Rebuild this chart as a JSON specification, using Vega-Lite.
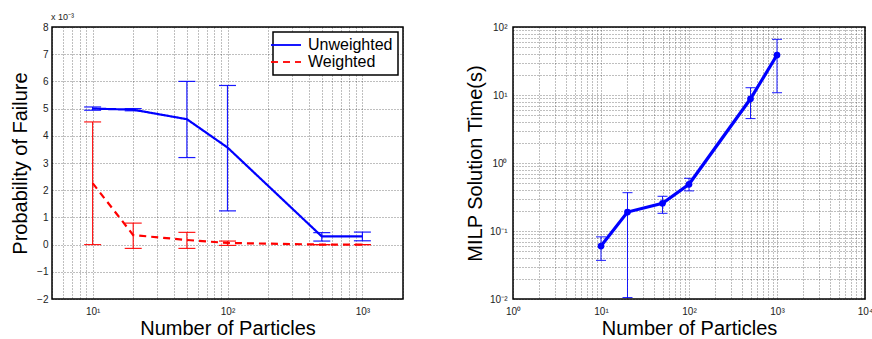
{
  "$schema": "https://vega.github.io/schema/vega-lite/v6.json",
  "padding": {"left": 9, "top": 12, "right": 0, "bottom": 0},
  "background": "white",
  "datasets": {
    "fail": [
      {"n": 10, "series": "Unweighted", "p": 0.00500, "lo": 0.00494, "hi": 0.00506},
      {"n": 20, "series": "Unweighted", "p": 0.00496, "lo": 0.00492, "hi": 0.00500},
      {"n": 50, "series": "Unweighted", "p": 0.00461, "lo": 0.00320, "hi": 0.00600},
      {"n": 100, "series": "Unweighted", "p": 0.00357, "lo": 0.00124, "hi": 0.00585},
      {"n": 500, "series": "Unweighted", "p": 0.00030, "lo": 0.00013, "hi": 0.00044},
      {"n": 1000, "series": "Unweighted", "p": 0.00030, "lo": 0.00014, "hi": 0.00046},
      {"n": 10, "series": "Weighted", "p": 0.00226, "lo": 0.0, "hi": 0.00451},
      {"n": 20, "series": "Weighted", "p": 0.00035, "lo": -0.00014, "hi": 0.00079},
      {"n": 50, "series": "Weighted", "p": 0.00017, "lo": -0.00014, "hi": 0.00045},
      {"n": 100, "series": "Weighted", "p": 0.00006, "lo": -0.00003, "hi": 0.00013},
      {"n": 500, "series": "Weighted", "p": 0.0, "lo": 0.0, "hi": 0.0},
      {"n": 1000, "series": "Weighted", "p": 0.0, "lo": 0.0, "hi": 0.0}
    ],
    "time": [
      {"n": 10, "t": 0.060, "lo": 0.037, "hi": 0.082},
      {"n": 20, "t": 0.19, "lo": 0.0105, "hi": 0.366},
      {"n": 50, "t": 0.255, "lo": 0.182, "hi": 0.324},
      {"n": 100, "t": 0.486, "lo": 0.389, "hi": 0.596},
      {"n": 500, "t": 8.8, "lo": 4.5, "hi": 12.8},
      {"n": 1000, "t": 38.7, "lo": 10.8, "hi": 65.9}
    ],
    "multiplier": [{"label": "x 10⁻³", "n": 5, "p": 0.008}]
  },
  "resolve": {
    "scale": {"color": "independent", "strokeDash": "independent"},
    "legend": {"color": "independent", "strokeDash": "independent"}
  },
  "hconcat": [
    {
      "width": 351,
      "height": 272,
      "data": {"name": "fail"},
      "encoding": {
        "x": {
          "field": "n", "type": "quantitative",
          "scale": {"type": "log", "domain": [5, 2000], "nice": false},
          "axis": {
            "title": "Number of Particles",
            "values": [5,6,7,8,9,10,20,30,40,50,60,70,80,90,100,200,300,400,500,600,700,800,900,1000,2000],
            "labelExpr": "datum.value==10?'10¹':datum.value==100?'10²':datum.value==1000?'10³':''",
            "labelPadding": 7, "titlePadding": 2, "labelOverlap": false
          }
        },
        "color": {
          "field": "series", "type": "nominal",
          "scale": {"domain": ["Unweighted", "Weighted"], "range": ["#0000ff", "#ff0000"]},
          "legend": {"title": null, "orient": "top-right", "offset": 5}
        }
      },
      "layer": [
        {
          "mark": {"type": "rule", "strokeWidth": 1.2, "opacity": 0.9},
          "encoding": {
            "y": {"field": "lo", "type": "quantitative",
              "scale": {"domain": [-0.002, 0.008], "nice": false, "zero": false},
              "axis": {
                "title": "Probability of Failure",
                "values": [-0.002,-0.001,0,0.001,0.002,0.003,0.004,0.005,0.006,0.007,0.008],
                "labelExpr": "(datum.value < -0.0000001 ? '−' : '') + abs(round(datum.value*1000))",
                "labelPadding": 4, "titlePadding": 6, "labelOverlap": false
              }
            },
            "y2": {"field": "hi"}
          }
        },
        {
          "mark": {"type": "tick", "orient": "horizontal", "size": 17, "thickness": 1.2, "opacity": 0.9},
          "encoding": {"y": {"field": "lo", "type": "quantitative",
              "scale": {"domain": [-0.002, 0.008], "nice": false, "zero": false},
              "axis": {
                "title": "Probability of Failure",
                "values": [-0.002,-0.001,0,0.001,0.002,0.003,0.004,0.005,0.006,0.007,0.008],
                "labelExpr": "(datum.value < -0.0000001 ? '−' : '') + abs(round(datum.value*1000))",
                "labelPadding": 4, "titlePadding": 6, "labelOverlap": false
              }}}
        },
        {
          "mark": {"type": "tick", "orient": "horizontal", "size": 17, "thickness": 1.2, "opacity": 0.9},
          "encoding": {"y": {"field": "hi", "type": "quantitative",
              "scale": {"domain": [-0.002, 0.008], "nice": false, "zero": false},
              "axis": {
                "title": "Probability of Failure",
                "values": [-0.002,-0.001,0,0.001,0.002,0.003,0.004,0.005,0.006,0.007,0.008],
                "labelExpr": "(datum.value < -0.0000001 ? '−' : '') + abs(round(datum.value*1000))",
                "labelPadding": 4, "titlePadding": 6, "labelOverlap": false
              }}}
        },
        {
          "mark": {"type": "line", "strokeWidth": 2.2},
          "encoding": {
            "y": {"field": "p", "type": "quantitative",
              "scale": {"domain": [-0.002, 0.008], "nice": false, "zero": false},
              "axis": {
                "title": "Probability of Failure",
                "values": [-0.002,-0.001,0,0.001,0.002,0.003,0.004,0.005,0.006,0.007,0.008],
                "labelExpr": "(datum.value < -0.0000001 ? '−' : '') + abs(round(datum.value*1000))",
                "labelPadding": 4, "titlePadding": 6, "labelOverlap": false
              }},
            "strokeDash": {
              "field": "series", "type": "nominal",
              "scale": {"domain": ["Unweighted", "Weighted"], "range": [[1, 0], [7, 5]]},
              "legend": {"title": null, "orient": "top-right", "offset": 5}
            }
          }
        },
        {
          "data": {"name": "multiplier"},
          "mark": {"type": "text", "align": "left", "baseline": "bottom", "dy": -5, "dx": -1, "fontSize": 9, "font": "Liberation Sans"},
          "encoding": {
            "x": {"field": "n", "type": "quantitative"},
            "y": {"field": "p", "type": "quantitative",
              "scale": {"domain": [-0.002, 0.008], "nice": false, "zero": false},
              "axis": {
                "title": "Probability of Failure",
                "values": [-0.002,-0.001,0,0.001,0.002,0.003,0.004,0.005,0.006,0.007,0.008],
                "labelExpr": "(datum.value < -0.0000001 ? '−' : '') + abs(round(datum.value*1000))",
                "labelPadding": 4, "titlePadding": 6, "labelOverlap": false
              }},
            "text": {"field": "label"},
            "color": {"value": "#222222"}
          }
        }
      ]
    },
    {
      "width": 352,
      "height": 272,
      "data": {"name": "time"},
      "encoding": {
        "x": {
          "field": "n", "type": "quantitative",
          "scale": {"type": "log", "domain": [1, 10000], "nice": false},
          "axis": {
            "title": "Number of Particles",
            "values": [1,2,3,4,5,6,7,8,9,10,20,30,40,50,60,70,80,90,100,200,300,400,500,600,700,800,900,1000,2000,3000,4000,5000,6000,7000,8000,9000,10000],
            "labelExpr": "datum.value==1?'10⁰':datum.value==10?'10¹':datum.value==100?'10²':datum.value==1000?'10³':datum.value==10000?'10⁴':''",
            "labelPadding": 7, "titlePadding": 2, "labelOverlap": false
          }
        },
        "y": {"field": "t", "type": "quantitative",
          "scale": {"type": "log", "domain": [0.01, 100], "nice": false},
          "axis": {
            "title": "MILP Solution Time(s)",
            "values": [0.01,0.02,0.03,0.04,0.05,0.06,0.07,0.08,0.09,0.1,0.2,0.3,0.4,0.5,0.6,0.7,0.8,0.9,1,2,3,4,5,6,7,8,9,10,20,30,40,50,60,70,80,90,100],
            "labelExpr": "datum.value==0.01?'10⁻²':datum.value==0.1?'10⁻¹':datum.value==1?'10⁰':datum.value==10?'10¹':datum.value==100?'10²':''",
            "labelPadding": 6, "titlePadding": 4, "labelOverlap": false
          }
        }
      },
      "layer": [
        {
          "mark": {"type": "rule", "color": "#0000ff", "strokeWidth": 1, "opacity": 0.9},
          "encoding": {
            "y": {"field": "lo", "type": "quantitative"},
            "y2": {"field": "hi"}
          }
        },
        {
          "mark": {"type": "tick", "orient": "horizontal", "size": 10, "thickness": 1, "color": "#0000ff", "opacity": 0.9},
          "encoding": {"y": {"field": "lo", "type": "quantitative"}}
        },
        {
          "mark": {"type": "tick", "orient": "horizontal", "size": 10, "thickness": 1, "color": "#0000ff", "opacity": 0.9},
          "encoding": {"y": {"field": "hi", "type": "quantitative"}}
        },
        {
          "mark": {"type": "line", "color": "#0000ff", "strokeWidth": 3.2}
        },
        {
          "mark": {"type": "point", "filled": true, "color": "#0000ff", "size": 45, "opacity": 1}
        }
      ]
    }
  ],
  "spacing": 110,
  "bounds": "flush",
  "config": {
    "view": {"stroke": "black", "strokeWidth": 1.5},
    "font": "Liberation Sans",
    "legend": {
      "symbolType": "M-3,0H3", "symbolSize": 100, "symbolStrokeWidth": 2,
      "labelFontSize": 16, "labelColor": "black", "labelFont": "Liberation Sans",
      "fillColor": "white", "strokeColor": "black", "strokeWidth": 1.5,
      "padding": 5, "rowPadding": 1, "labelOffset": 14, "labelLimit": 200
    },
    "axis": {
      "domain": false,
      "ticks": false,
      "grid": true,
      "gridColor": "#000000",
      "gridOpacity": 0.5,
      "gridDash": [1, 2],
      "gridWidth": 1,
      "labelFont": "Liberation Sans",
      "labelFontSize": 10,
      "labelColor": "#222222",
      "labelOverlap": false,
      "labelFlush": false,
      "titleFont": "Liberation Sans",
      "titleFontSize": 20,
      "titleFontWeight": "normal",
      "titleColor": "black"
    }
  }
}
